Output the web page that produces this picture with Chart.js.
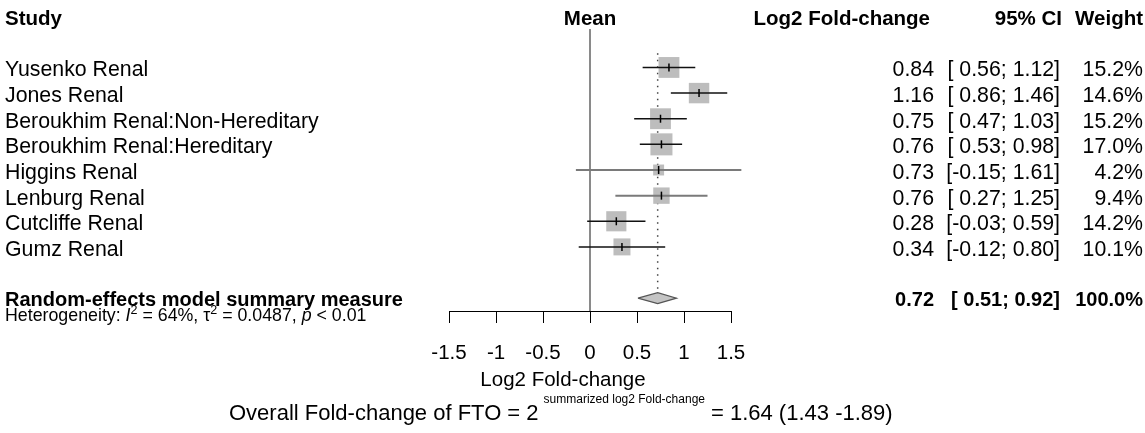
<!DOCTYPE html>
<html>
<head>
<meta charset="utf-8">
<script src="https://cdn.jsdelivr.net/npm/chart.js@4.4.0/dist/chart.umd.min.js"></script>
<style>
  html, body { margin: 0; padding: 0; background: #fff; }
  #wrap { width: 1145px; height: 433px; }
</style>
</head>
<body>
<div id="wrap"><canvas id="forest" width="1145" height="433"></canvas></div>
<script>
// ---- data ----
const studies = [
  "Yusenko Renal",
  "Jones Renal",
  "Beroukhim Renal:Non-Hereditary",
  "Beroukhim Renal:Hereditary",
  "Higgins Renal",
  "Lenburg Renal",
  "Cutcliffe Renal",
  "Gumz Renal"
];
const means   = [0.84, 1.16, 0.75, 0.76, 0.73, 0.76, 0.28, 0.34];
const lower   = [0.56, 0.86, 0.47, 0.53, -0.15, 0.27, -0.03, -0.12];
const upper   = [1.12, 1.46, 1.03, 0.98, 1.61, 1.25, 0.59, 0.80];
const weights = [15.2, 14.6, 15.2, 17.0, 4.2, 9.4, 14.2, 10.1];

const summaryMean  = [0.72];
const summaryLower = [0.51];
const summaryUpper = [0.92];
const summaryWeight = [100.0];

const xTicks = [-1.5, -1, -0.5, 0, 0.5, 1, 1.5];

// ---- styling ----
const FONT = '"Liberation Sans", Arial, sans-serif';
const BOX_GREY = "#bdbdbd";
const ciColors = ["#111", "#111", "#111", "#111", "#7a7a7a", "#7a7a7a", "#111", "#111"];
const ciWidths = [1.5, 1.5, 1.5, 1.5, 2, 2, 1.5, 1.5];

const summaryRow = studies.length + 1;
const headerRow = -2;

function font(size, style) { return (style || "") + " " + size + "px " + FONT; }
function fmt(v) { return (v < 0 ? "" : " ") + v.toFixed(2); }
function ciText(l, u) { return "[" + fmt(l) + ";" + fmt(u) + "]"; }

// draws pieces of text one after another (for superscripts / italics)
function drawRuns(ctx, x, y, runs) {
  for (const r of runs) {
    ctx.font = r.font;
    ctx.fillText(r.t, x, y - (r.up || 0));
    x += ctx.measureText(r.t).width + (r.gap || 0);
  }
  return x;
}

const textPlugin = {
  id: "forestText",
  afterDraw(chart) {
    const { ctx, scales } = chart;
    const xs = scales.x, ys = scales.y;
    const rowPx = i => ys.getPixelForValue(i);
    const colVal = 934, colCI = 1060, colW = 1143;

    ctx.save();
    ctx.fillStyle = "#000";
    ctx.textBaseline = "alphabetic";

    // headers
    const hy = rowPx(headerRow) + 9;
    ctx.font = font(20.5, "bold");
    ctx.textAlign = "left";
    ctx.fillText("Study", 5, hy);
    ctx.textAlign = "center";
    ctx.fillText("Mean", xs.getPixelForValue(0), hy);
    ctx.textAlign = "right";
    ctx.fillText("Log2 Fold-change", colVal - 4, hy);
    ctx.fillText("95% CI", colCI + 2, hy);
    ctx.fillText("Weight", colW, hy);

    // study rows
    ctx.font = font(21.3);
    studies.forEach((s, i) => {
      const y = rowPx(i) + 9;
      ctx.textAlign = "left";
      ctx.fillText(s, 5, y);
      ctx.textAlign = "right";
      ctx.fillText(means[i].toFixed(2), colVal, y);
      ctx.fillText(ciText(lower[i], upper[i]), colCI, y);
      ctx.fillText(weights[i].toFixed(1) + "%", colW, y);
    });

    // summary row
    const sy = rowPx(summaryRow) + 8;
    ctx.font = font(20, "bold");
    ctx.textAlign = "left";
    ctx.fillText("Random-effects model summary measure", 5, sy);
    ctx.textAlign = "right";
    ctx.fillText(summaryMean[0].toFixed(2), colVal, sy);
    ctx.fillText(ciText(summaryLower[0], summaryUpper[0]), colCI, sy);
    ctx.fillText(summaryWeight[0].toFixed(1) + "%", colW, sy);

    // heterogeneity
    ctx.textAlign = "left";
    const hs = 17.8;
    drawRuns(ctx, 5, sy + 15, [
      { t: "Heterogeneity: ", font: font(hs) },
      { t: "I", font: font(hs, "italic") },
      { t: "2", font: font(12.5), up: 7 },
      { t: " = 64%, ", font: font(hs) },
      { t: "\u03c4", font: font(hs) },
      { t: "2", font: font(12.5), up: 7 },
      { t: " = 0.0487, ", font: font(hs) },
      { t: "p", font: font(hs, "italic") },
      { t: " < 0.01", font: font(hs) }
    ]);

    // axis title
    ctx.textAlign = "center";
    ctx.font = font(20.5);
    ctx.fillText("Log2 Fold-change", 563, 386);

    // overall fold-change line
    ctx.textAlign = "left";
    drawRuns(ctx, 229, 420, [
      { t: "Overall Fold-change of FTO = 2", font: font(22), gap: 5 },
      { t: "summarized log2 Fold-change", font: font(12), up: 17, gap: 6 },
      { t: "= 1.64 (1.43 -1.89)", font: font(22) }
    ]);
    ctx.restore();
  }
};

const ctx = document.getElementById("forest").getContext("2d");

const ciDatasets = studies.map((s, i) => ({
  label: s,
  data: [{ x: lower[i], y: i }, { x: upper[i], y: i }],
  showLine: true,
  pointRadius: 0,
  borderColor: ciColors[i],
  borderWidth: ciWidths[i],
  clip: false,
  order: 1
}));

const diamondH = 0.215;
const diamond = [
  { x: summaryLower[0], y: summaryRow },
  { x: summaryMean[0], y: summaryRow - diamondH },
  { x: summaryUpper[0], y: summaryRow },
  { x: summaryMean[0], y: summaryRow + diamondH },
  { x: summaryLower[0], y: summaryRow }
];

new Chart(ctx, {
  type: "scatter",
  data: {
    datasets: [
      {
        label: "mean",
        data: means.map((m, i) => ({ x: m, y: i })),
        pointStyle: "line",
        rotation: 90,
        pointRadius: 4,
        borderColor: "#000",
        borderWidth: 1.5,
        clip: false,
        order: 0
      },
      ...ciDatasets,
      {
        label: "weight boxes",
        data: means.map((m, i) => ({ x: m, y: i })),
        pointStyle: "rect",
        pointRadius: weights.map(w => 3.78 * Math.sqrt(w)),
        backgroundColor: BOX_GREY,
        borderWidth: 0,
        clip: false,
        order: 2
      },
      {
        type: "line",
        label: "summary",
        data: diamond,
        borderColor: "#555",
        borderWidth: 1.2,
        backgroundColor: "#c4c4c4",
        fill: "shape",
        pointRadius: 0,
        tension: 0,
        clip: false,
        order: 2
      },
      {
        label: "no effect",
        data: [{ x: 0, y: -1.5 }, { x: 0, y: 9.5 }],
        showLine: true,
        pointRadius: 0,
        borderColor: "#8a8a8a",
        borderWidth: 2,
        order: 3
      },
      {
        label: "summary mean",
        data: [{ x: summaryMean[0], y: -0.55 }, { x: summaryMean[0], y: summaryRow - 0.3 }],
        showLine: true,
        pointRadius: 0,
        borderColor: "#444",
        borderWidth: 1.5,
        borderDash: [1.5, 5],
        order: 3
      }
    ]
  },
  options: {
    responsive: false,
    animation: false,
    devicePixelRatio: 1,
    layout: { padding: { left: 449, right: 414, top: 29, bottom: 62 } },
    plugins: {
      legend: { display: false },
      tooltip: { enabled: false }
    },
    scales: {
      x: {
        type: "linear",
        min: -1.5,
        max: 1.5,
        afterBuildTicks: s => { s.ticks = xTicks.map(v => ({ value: v })); },
        afterFit: s => { s.height = 60; },
        grid: { drawOnChartArea: false, drawTicks: true, tickLength: 12, color: "#000", lineWidth: 1 },
        border: { display: true, color: "#000", width: 1 },
        ticks: {
          color: "#000",
          font: { size: 20.5, family: FONT },
          padding: 18,
          maxRotation: 0,
          autoSkip: false,
          callback: v => String(v)
        }
      },
      y: {
        type: "linear",
        display: false,
        min: -1.5,
        max: 9.5,
        reverse: true
      }
    }
  },
  plugins: [textPlugin]
});
</script>
</body>
</html>
